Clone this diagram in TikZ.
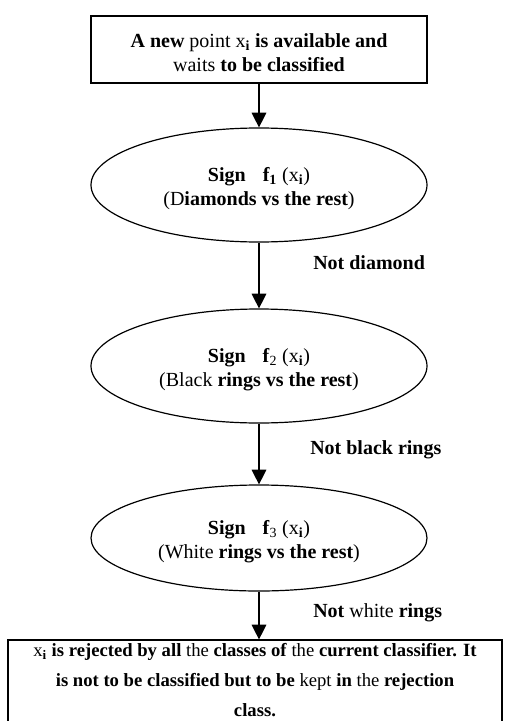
\documentclass[tikz,border=0pt]{standalone}
\usepackage{fontspec}
\setmainfont{Liberation Serif}
\usetikzlibrary{arrows.meta,shapes.geometric}

\newcommand{\xsub}{x\textsubscript{\textbf{i}}}
\newcommand{\toprule}{\rule{0pt}{16pt}}

\begin{document}
\begin{tikzpicture}[x=0.75pt,y=-0.75pt,
  every node/.style={font=\fontsize{15}{18}\selectfont},
  box/.style={draw,line width=0.9pt,rectangle,align=center,inner sep=0pt},
  oval/.style={draw,line width=0.9pt,ellipse,align=center,inner sep=0pt,
    minimum width=252pt,minimum height=85.5pt},
  lbl/.style={anchor=west,inner sep=0pt},
  arr/.style={line width=0.9pt,-{Triangle[length=11pt,width=11pt]}}]
\useasboundingbox (0,0) rectangle (512,721);
\clip (0,0) rectangle (512,721);

\node[box,minimum width=252pt,minimum height=50.25pt] (start) at (259,49.5)
  {\rule{0pt}{15pt}\textbf{A new} point \xsub{} \textbf{is available and}\\
   waits \textbf{to be classified}};

\node[oval] (f1) at (259,185)
  {\toprule\textbf{Sign}\hspace{0.85em}\textbf{f\textsubscript{1}} (\xsub)\\
   (D\textbf{iamonds vs the rest})};
\node[oval] (f2) at (259,366)
  {\toprule\textbf{Sign}\hspace{0.85em}\textbf{f}\textsubscript{2} (\xsub)\\
   (Black \textbf{rings vs the rest})};
\node[oval,minimum height=79.5pt] (f3) at (259,538)
  {\toprule\textbf{Sign}\hspace{0.85em}\textbf{f}\textsubscript{3} (\xsub)\\
   (White \textbf{rings vs the rest})};

\node[box,minimum width=370.5pt,minimum height=67.5pt,
  font=\fontsize{14}{22.5}\selectfont] (reject) at (255,685)
  {\xsub{} \textbf{is rejected by all} the \textbf{classes of} the \textbf{current classifier. It}\\
   \textbf{is not to be classified but to be} kept \textbf{in} the \textbf{rejection}\\
   \textbf{class.}\rule[-7pt]{0pt}{7pt}};

% branch labels
\node[lbl] (n1) at (313,263) {\textbf{Not diamond}};
\node[lbl] (n2) at (310,450) {\textbf{Not black rings}};
\node[lbl] (n3) at (313,613) {\textbf{Not} white \textbf{rings}};

\draw[arr] (start) -- (f1);
\draw[arr] (f1) -- (f2);
\draw[arr] (f2) -- (f3);
\draw[arr] (f3.south) -- (f3.south |- reject.north);
\end{tikzpicture}
\end{document}
